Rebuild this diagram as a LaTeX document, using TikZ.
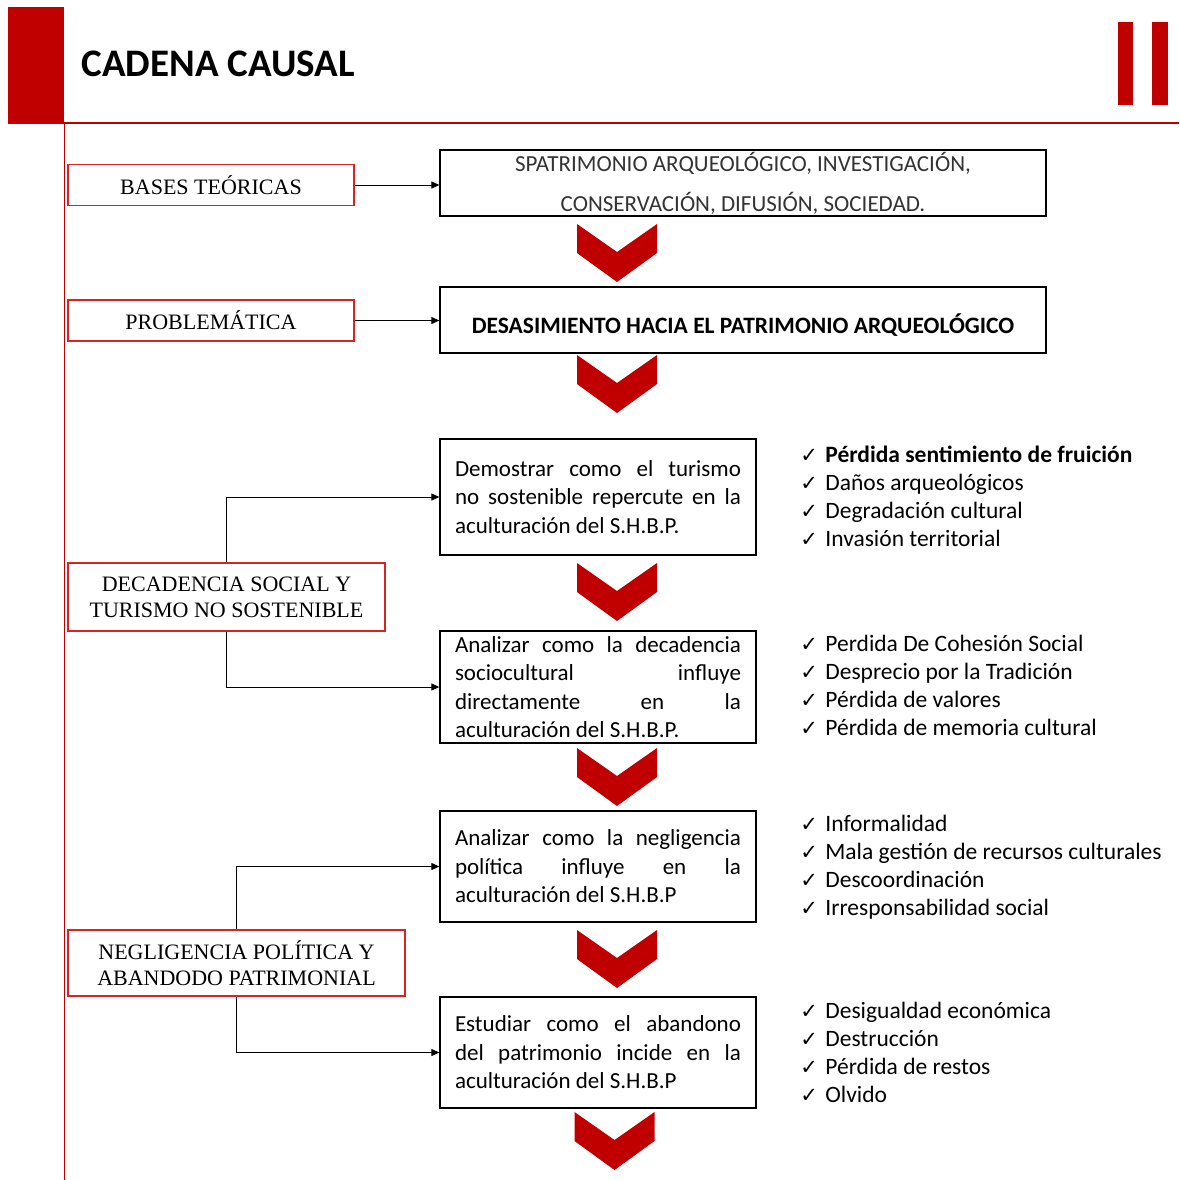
\documentclass[tikz,border=0pt]{standalone}
\usepackage{fontspec}
\setmainfont{Carlito}
\newfontfamily\serifont{Liberation Serif}
\newfontfamily\checkfont{DejaVu Sans}
\usetikzlibrary{positioning,arrows.meta}

\definecolor{rojo}{RGB}{192,0,0}
\definecolor{rojoborde}{RGB}{214,36,36}
\newcommand{\visto}{\makebox[25pt][l]{\checkfont\fontsize{21}{24}\selectfont ✓}}

\tikzset{every picture/.style={line width=0.75pt}}
\tikzset{
  etiqueta/.style={draw=rojoborde, line width=1.3, inner sep=0, align=center, font=\serifont\fontsize{22}{26}\selectfont},
  marco/.style={draw=black, line width=1.3, inner sep=0, minimum width=606, align=center},
  objetivo/.style={draw=black, line width=1.3, inner xsep=15, inner ysep=0, text width=286, align=justify, font=\fontsize{23}{28.5}\selectfont},
  flecha/.style={-{Triangle[length=8pt,width=7pt]}, line width=1},
  punto/.style={anchor=base west, inner sep=0, font=\fontsize{23.5}{28}\selectfont}
}

\begin{document}
\begin{tikzpicture}[x=1pt,y=1pt,yscale=-1,xscale=1]
\useasboundingbox (0,0) rectangle (1179,1180);

%Shape: Rectangle [header]
\fill[rojo] (8,7) rectangle (64,124);
\fill[rojo] (1118,22) rectangle (1133,105);
\fill[rojo] (1152,22) rectangle (1168,105);
%Straight Lines
\draw[rojo, line width=1.3] (64,123) -- (1179,123);
\draw[rojo, line width=1] (64,123) -- (64,1180);

% Text Node
\node[anchor=west, font=\bfseries\fontsize{39}{46}\selectfont] (titulo) at (78,64) {CADENA CAUSAL};

% Bases and problem
\node[etiqueta, minimum width=286, minimum height=41] (bases) at (211,185) {BASES TEÓRICAS};
\node[marco, minimum height=66, font=\fontsize{23}{40}\selectfont, text=black!80] (teoria) at (743,183) {SPATRIMONIO ARQUEOLÓGICO, INVESTIGACIÓN,\\CONSERVACIÓN, DIFUSIÓN, SOCIEDAD.};
\node[etiqueta, minimum width=286, minimum height=41] (problema) at (211,320.5) {PROBLEMÁTICA};
\node[marco, minimum height=66, font=\bfseries\fontsize{23.5}{28}\selectfont, text height=27pt, text depth=1pt] (desasim) at (743,320) {DESASIMIENTO HACIA EL PATRIMONIO ARQUEOLÓGICO};

\draw[flecha] (bases.east) -- (bases.east -| teoria.west);
\draw[flecha] (problema.east) -- (problema.east -| desasim.west);

% Objectives
\node[objetivo, minimum height=116] (obj1) at (598,497) {Demostrar como el turismo\linebreak no sostenible repercute en la\linebreak aculturación del S.H.B.P.};
\node[objetivo, minimum height=112] (obj2) at (598,687) {Analizar como la decadencia\linebreak sociocultural influye\linebreak directamente en la\linebreak aculturación del S.H.B.P.};
\node[objetivo, minimum height=111] (obj3) at (598,866.5) {Analizar como la negligencia\linebreak política influye en la\linebreak aculturación del S.H.B.P};
\node[objetivo, minimum height=111] (obj4) at (598,1052.5) {Estudiar como el abandono\linebreak del patrimonio incide en la\linebreak aculturación del S.H.B.P};

% Causes
\node[etiqueta, minimum width=317, minimum height=68] (decad) at (226.5,597) {DECADENCIA SOCIAL Y\\TURISMO NO SOSTENIBLE};
\node[etiqueta, minimum width=337, minimum height=66] (negli) at (236.5,963) {NEGLIGENCIA POLÍTICA Y\\ABANDODO PATRIMONIAL};

\draw[flecha] (decad.north) |- (obj1.west);
\draw[flecha] (decad.south) |- (obj2.west);
\draw[flecha] (negli.north) |- (obj3.west);
\draw[flecha] (negli.south) |- (obj4.west);

% Chevrons
\foreach \cx/\cy in {617/224,617/355,617/563,617/748,617/930,614.5/1112}
  \fill[rojo] (\cx-40,\cy) -- (\cx,\cy+28) -- (\cx+40,\cy) -- (\cx+40,\cy+29) -- (\cx,\cy+58) -- (\cx-40,\cy+29) -- cycle;

% Effects
\foreach \txt [count=\i] in {{\textbf{Pérdida sentimiento de fruición}},Daños arqueológicos,Degradación cultural,Invasión territorial}
  \node[punto] (ef1-\i) at (800,{462+(\i-1)*28.3}) {\visto\txt};
\foreach \txt [count=\i] in {Perdida De Cohesión Social,Desprecio por la Tradición,Pérdida de valores,Pérdida de memoria cultural}
  \node[punto] (ef2-\i) at (800,{651+(\i-1)*28.3}) {\visto\txt};
\foreach \txt [count=\i] in {Informalidad,Mala gestión de recursos culturales,Descoordinación,Irresponsabilidad social}
  \node[punto] (ef3-\i) at (800,{831+(\i-1)*28.3}) {\visto\txt};
\foreach \txt [count=\i] in {Desigualdad económica,Destrucción,Pérdida de restos,Olvido}
  \node[punto] (ef4-\i) at (800,{1018+(\i-1)*28.3}) {\visto\txt};

\end{tikzpicture}
\end{document}
